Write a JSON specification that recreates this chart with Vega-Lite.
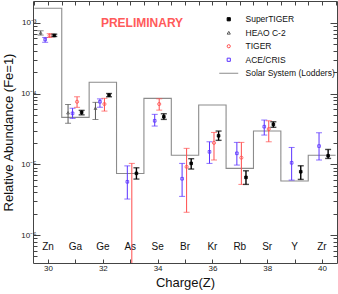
{
"$schema": "https://vega.github.io/schema/vega-lite/v6.json",
"width": 304, "height": 262,
"autosize": {"type": "none"},
"padding": {"left": 33, "top": 1, "right": 1, "bottom": 31},
"background": "white",
"config": {
  "view": {"stroke": "#444", "strokeWidth": 1},
  "font": "Liberation Sans",
  "axis": {"grid": false, "domain": false, "labelFont": "Liberation Sans", "titleFont": "Liberation Sans", "tickColor": "#444", "labelColor": "#222", "titleColor": "#111", "titleFontWeight": "normal"},
  "legend": {"orient": "none", "legendX": 191.5, "legendY": 14, "title": null, "labelFont": "Liberation Sans", "labelFontSize": 8.5, "labelColor": "#111111", "rowPadding": 4.5, "labelOffset": 12.5, "symbolStrokeWidth": 1, "symbolSize": 10}
},
"datasets": {
  "solar": [
    {"z": 29.5, "ab": 1.6e-3}, {"z": 30.5, "ab": 4.6e-5}, {"z": 31.5, "ab": 1.44e-4}, {"z": 32.5, "ab": 7.4e-6},
    {"z": 33.5, "ab": 8.55e-5}, {"z": 34.5, "ab": 1.34e-5}, {"z": 35.5, "ab": 6.87e-5}, {"z": 36.5, "ab": 8.77e-6},
    {"z": 37.5, "ab": 2.95e-5}, {"z": 38.5, "ab": 5.8e-6}, {"z": 39.5, "ab": 1.34e-5}, {"z": 40.5, "ab": 1.34e-5}
  ],
  "els": [
    {"z": 30, "el": "Zn"}, {"z": 31, "el": "Ga"}, {"z": 32, "el": "Ge"}, {"z": 33, "el": "As"}, {"z": 34, "el": "Se"},
    {"z": 35, "el": "Br"}, {"z": 36, "el": "Kr"}, {"z": 37, "el": "Rb"}, {"z": 38, "el": "Sr"}, {"z": 39, "el": "Y"}, {"z": 40, "el": "Zr"}
  ],
  "meas": [
    {"z": 30, "exp": "HEAO C-2", "v": 7.2e-4, "lo": 6.7e-4, "hi": 7.7e-4},
    {"z": 31, "exp": "HEAO C-2", "v": 5.35e-5, "lo": 3.8e-5, "hi": 7.0e-5},
    {"z": 32, "exp": "HEAO C-2", "v": 6.2e-5, "lo": 4.3e-5, "hi": 7.5e-5},
    {"z": 30, "exp": "ACE/CRIS", "v": 5.8e-4, "lo": 5.3e-4, "hi": 6.2e-4},
    {"z": 31, "exp": "ACE/CRIS", "v": 5.25e-5, "lo": 4.45e-5, "hi": 6.2e-5},
    {"z": 32, "exp": "ACE/CRIS", "v": 7.65e-5, "lo": 6.4e-5, "hi": 8.4e-5},
    {"z": 33, "exp": "ACE/CRIS", "v": 5.66e-6, "lo": 3.23e-6, "hi": 9.5e-6},
    {"z": 34, "exp": "ACE/CRIS", "v": 4.12e-5, "lo": 3.47e-5, "hi": 5.08e-5},
    {"z": 35, "exp": "ACE/CRIS", "v": 6.25e-6, "lo": 3.52e-6, "hi": 1.03e-5},
    {"z": 36, "exp": "ACE/CRIS", "v": 1.5e-5, "lo": 1.03e-5, "hi": 2.08e-5},
    {"z": 37, "exp": "ACE/CRIS", "v": 1.43e-5, "lo": 9.75e-6, "hi": 2.04e-5},
    {"z": 38, "exp": "ACE/CRIS", "v": 3.4e-5, "lo": 2.59e-5, "hi": 4.22e-5},
    {"z": 39, "exp": "ACE/CRIS", "v": 1.05e-5, "lo": 5.98e-6, "hi": 1.73e-5},
    {"z": 40, "exp": "ACE/CRIS", "v": 1.81e-5, "lo": 1.15e-5, "hi": 2.79e-5},
    {"z": 30, "exp": "TIGER", "v": 6.6e-4, "lo": 6.2e-4, "hi": 7.0e-4},
    {"z": 31, "exp": "TIGER", "v": 7.65e-5, "lo": 6.38e-5, "hi": 9.0e-5},
    {"z": 32, "exp": "TIGER", "v": 7.1e-5, "lo": 5.65e-5, "hi": 8.56e-5},
    {"z": 33, "exp": "TIGER", "v": 2e-7, "lo": 1e-8, "hi": 1.03e-5},
    {"z": 34, "exp": "TIGER", "v": 7.1e-5, "lo": 5.83e-5, "hi": 8.43e-5},
    {"z": 35, "exp": "TIGER", "v": 9.2e-6, "lo": 2.1e-6, "hi": 1.68e-5},
    {"z": 36, "exp": "TIGER", "v": 2.01e-5, "lo": 1.15e-5, "hi": 2.82e-5},
    {"z": 37, "exp": "TIGER", "v": 1.24e-5, "lo": 5.2e-6, "hi": 2.04e-5},
    {"z": 38, "exp": "TIGER", "v": 3.15e-5, "lo": 2.08e-5, "hi": 4.12e-5},
    {"z": 30, "exp": "SuperTIGER", "v": 6.6e-4, "lo": 6.4e-4, "hi": 6.9e-4},
    {"z": 31, "exp": "SuperTIGER", "v": 5.42e-5, "lo": 5.0e-5, "hi": 5.78e-5},
    {"z": 32, "exp": "SuperTIGER", "v": 9.5e-5, "lo": 9.0e-5, "hi": 1.0e-4},
    {"z": 33, "exp": "SuperTIGER", "v": 7.45e-6, "lo": 6.18e-6, "hi": 8.93e-6},
    {"z": 34, "exp": "SuperTIGER", "v": 4.7e-5, "lo": 4.31e-5, "hi": 5.18e-5},
    {"z": 35, "exp": "SuperTIGER", "v": 1.03e-5, "lo": 8.57e-6, "hi": 1.2e-5},
    {"z": 36, "exp": "SuperTIGER", "v": 2.53e-5, "lo": 2.18e-5, "hi": 2.95e-5},
    {"z": 37, "exp": "SuperTIGER", "v": 6.53e-6, "lo": 5.2e-6, "hi": 8.1e-6},
    {"z": 38, "exp": "SuperTIGER", "v": 3.66e-5, "lo": 3.33e-5, "hi": 3.99e-5},
    {"z": 39, "exp": "SuperTIGER", "v": 7.85e-6, "lo": 6.12e-6, "hi": 9.53e-6},
    {"z": 40, "exp": "SuperTIGER", "v": 1.32e-5, "lo": 1.21e-5, "hi": 1.62e-5}
  ]
},
"resolve": {"axis": {"x": "independent", "y": "independent"}},
"layer": [
  {
    "data": {"name": "solar"},
    "mark": {"type": "line", "interpolate": "step-after", "color": "#8c8c8c", "strokeWidth": 1.1, "clip": true},
    "encoding": {
      "x": {"field": "z", "type": "quantitative", "scale": {"domain": [29.45, 40.55], "nice": false, "zero": false},
        "axis": {"orient": "bottom", "values": [30, 31, 32, 33, 34, 35, 36, 37, 38, 39, 40], "labelExpr": "datum.value % 2 == 0 ? datum.label : ''", "tickSize": -4, "labelFontSize": 8, "labelPadding": 5, "title": "Charge(Z)", "titleFontSize": 13, "titlePadding": 4}},
      "y": {"field": "ab", "type": "quantitative", "scale": {"type": "log", "domain": [4.03e-7, 2.03e-3], "nice": false},
        "axis": {"orient": "left", "values": [5e-7, 6e-7, 7e-7, 8e-7, 9e-7, 1e-6, 2e-6, 3e-6, 4e-6, 5e-6, 6e-6, 7e-6, 8e-6, 9e-6, 1e-5, 2e-5, 3e-5, 4e-5, 5e-5, 6e-5, 7e-5, 8e-5, 9e-5, 1e-4, 2e-4, 3e-4, 4e-4, 5e-4, 6e-4, 7e-4, 8e-4, 9e-4, 1e-3],
          "labelExpr": "datum.value == 1e-3 ? '10⁻³' : datum.value == 1e-4 ? '10⁻⁴' : datum.value == 1e-5 ? '10⁻⁵' : datum.value == 1e-6 ? '10⁻⁶' : ''",
          "tickSize": {"condition": {"test": "abs(log(datum.value)/LN10 - round(log(datum.value)/LN10)) < 0.01", "value": -7}, "value": -4},
          "labelFontSize": 8, "labelPadding": 4, "title": "Relative Abundance (Fe=1)", "titleFontSize": 13, "titlePadding": 5}}
    }
  },
  {
    "data": {"name": "els"},
    "mark": {"type": "text", "fontSize": 10, "color": "#111111", "font": "Liberation Sans"},
    "encoding": {
      "x": {"field": "z", "type": "quantitative", "scale": {"domain": [29.45, 40.55], "nice": false, "zero": false},
        "axis": {"orient": "top", "values": [29.5, 30, 30.5, 31, 31.5, 32, 32.5, 33, 33.5, 34, 34.5, 35, 35.5, 36, 36.5, 37, 37.5, 38, 38.5, 39, 39.5, 40, 40.5], "labels": false, "tickSize": -4, "title": null}},
      "y": {"datum": 6.8e-7, "type": "quantitative", "scale": {"type": "log", "domain": [4.03e-7, 2.03e-3], "nice": false},
        "axis": {"orient": "right", "values": [5e-7, 6e-7, 7e-7, 8e-7, 9e-7, 1e-6, 2e-6, 3e-6, 4e-6, 5e-6, 6e-6, 7e-6, 8e-6, 9e-6, 1e-5, 2e-5, 3e-5, 4e-5, 5e-5, 6e-5, 7e-5, 8e-5, 9e-5, 1e-4, 2e-4, 3e-4, 4e-4, 5e-4, 6e-4, 7e-4, 8e-4, 9e-4, 1e-3],
          "labels": false, "title": null,
          "tickSize": {"condition": {"test": "abs(log(datum.value)/LN10 - round(log(datum.value)/LN10)) < 0.01", "value": -7}, "value": -4}}},
      "text": {"field": "el"}
    }
  },
  {
    "data": {"values": [{"label": "PRELIMINARY"}]},
    "mark": {"type": "text", "fontSize": 12, "fontWeight": "bold", "color": "#ff5a5a", "font": "Liberation Sans"},
    "encoding": {
      "x": {"datum": 33.43, "type": "quantitative", "scale": {"domain": [29.45, 40.55], "nice": false, "zero": false}, "axis": null},
      "y": {"datum": 1.0e-3, "type": "quantitative", "scale": {"type": "log", "domain": [4.03e-7, 2.03e-3], "nice": false}, "axis": null},
      "text": {"field": "label"}
    }
  },
  {
    "data": {"name": "meas"},
    "transform": [{"filter": {"field": "exp", "equal": "HEAO C-2"}}],
    "encoding": {
      "x": {"field": "z", "type": "quantitative", "scale": {"domain": [29.45, 40.55], "nice": false, "zero": false}, "axis": null}
    },
    "layer": [
      {"mark": {"type": "rule", "strokeWidth": 1, "color": "#555555", "xOffset": -7.4, "clip": true},
       "encoding": {"y": {"field": "lo", "type": "quantitative", "scale": {"type": "log", "domain": [4.03e-7, 2.03e-3], "nice": false}, "axis": null}, "y2": {"field": "hi"}}},
      {"mark": {"type": "tick", "orient": "horizontal", "size": 6, "thickness": 1, "color": "#555555", "xOffset": -7.4, "clip": true},
       "encoding": {"y": {"field": "lo", "type": "quantitative", "scale": {"type": "log", "domain": [4.03e-7, 2.03e-3], "nice": false}, "axis": null}}},
      {"mark": {"type": "tick", "orient": "horizontal", "size": 6, "thickness": 1, "color": "#555555", "xOffset": -7.4, "clip": true},
       "encoding": {"y": {"field": "hi", "type": "quantitative", "scale": {"type": "log", "domain": [4.03e-7, 2.03e-3], "nice": false}, "axis": null}}},
      {"mark": {"type": "point", "filled": false, "strokeWidth": 0.8, "opacity": 1, "size": 8, "xOffset": -7.4, "clip": true},
       "encoding": {
         "y": {"field": "v", "type": "quantitative", "scale": {"type": "log", "domain": [4.03e-7, 2.03e-3], "nice": false}, "axis": null},
         "color": {"field": "exp", "type": "nominal", "scale": {"domain": ["SuperTIGER", "HEAO C-2", "TIGER", "ACE/CRIS", "Solar System (Lodders)"], "range": ["#000000", "#555555", "#ff4d4d", "#5a32ff", "#8c8c8c"]}},
         "shape": {"field": "exp", "type": "nominal", "scale": {"domain": ["SuperTIGER", "HEAO C-2", "TIGER", "ACE/CRIS", "Solar System (Lodders)"], "range": ["square", "triangle-up", "circle", "square", "M-6,0L6,0"]}},
         "fill": {"field": "exp", "type": "nominal", "scale": {"domain": ["SuperTIGER", "HEAO C-2", "TIGER", "ACE/CRIS", "Solar System (Lodders)"], "range": ["#000000", "transparent", "transparent", "transparent", "transparent"]}}
       }}
    ]
  },
  {
    "data": {"name": "meas"},
    "transform": [{"filter": {"field": "exp", "equal": "ACE/CRIS"}}],
    "encoding": {
      "x": {"field": "z", "type": "quantitative", "scale": {"domain": [29.45, 40.55], "nice": false, "zero": false}, "axis": null}
    },
    "layer": [
      {"mark": {"type": "rule", "strokeWidth": 1, "color": "#5a32ff", "xOffset": -2.9, "clip": true},
       "encoding": {"y": {"field": "lo", "type": "quantitative", "scale": {"type": "log", "domain": [4.03e-7, 2.03e-3], "nice": false}, "axis": null}, "y2": {"field": "hi"}}},
      {"mark": {"type": "tick", "orient": "horizontal", "size": 6, "thickness": 1, "color": "#5a32ff", "xOffset": -2.9, "clip": true},
       "encoding": {"y": {"field": "lo", "type": "quantitative", "scale": {"type": "log", "domain": [4.03e-7, 2.03e-3], "nice": false}, "axis": null}}},
      {"mark": {"type": "tick", "orient": "horizontal", "size": 6, "thickness": 1, "color": "#5a32ff", "xOffset": -2.9, "clip": true},
       "encoding": {"y": {"field": "hi", "type": "quantitative", "scale": {"type": "log", "domain": [4.03e-7, 2.03e-3], "nice": false}, "axis": null}}},
      {"mark": {"type": "point", "filled": false, "strokeWidth": 0.8, "opacity": 1, "size": 7, "xOffset": -2.9, "clip": true},
       "encoding": {
         "y": {"field": "v", "type": "quantitative", "scale": {"type": "log", "domain": [4.03e-7, 2.03e-3], "nice": false}, "axis": null},
         "color": {"field": "exp", "type": "nominal", "scale": {"domain": ["SuperTIGER", "HEAO C-2", "TIGER", "ACE/CRIS", "Solar System (Lodders)"], "range": ["#000000", "#555555", "#ff4d4d", "#5a32ff", "#8c8c8c"]}},
         "shape": {"field": "exp", "type": "nominal", "scale": {"domain": ["SuperTIGER", "HEAO C-2", "TIGER", "ACE/CRIS", "Solar System (Lodders)"], "range": ["square", "triangle-up", "circle", "square", "M-6,0L6,0"]}},
         "fill": {"field": "exp", "type": "nominal", "scale": {"domain": ["SuperTIGER", "HEAO C-2", "TIGER", "ACE/CRIS", "Solar System (Lodders)"], "range": ["#000000", "transparent", "transparent", "transparent", "transparent"]}}
       }}
    ]
  },
  {
    "data": {"name": "meas"},
    "transform": [{"filter": {"field": "exp", "equal": "TIGER"}}],
    "encoding": {
      "x": {"field": "z", "type": "quantitative", "scale": {"domain": [29.45, 40.55], "nice": false, "zero": false}, "axis": null}
    },
    "layer": [
      {"mark": {"type": "rule", "strokeWidth": 1, "color": "#ff4d4d", "xOffset": 1.6, "clip": true},
       "encoding": {"y": {"field": "lo", "type": "quantitative", "scale": {"type": "log", "domain": [4.03e-7, 2.03e-3], "nice": false}, "axis": null}, "y2": {"field": "hi"}}},
      {"mark": {"type": "tick", "orient": "horizontal", "size": 6, "thickness": 1, "color": "#ff4d4d", "xOffset": 1.6, "clip": true},
       "encoding": {"y": {"field": "lo", "type": "quantitative", "scale": {"type": "log", "domain": [4.03e-7, 2.03e-3], "nice": false}, "axis": null}}},
      {"mark": {"type": "tick", "orient": "horizontal", "size": 6, "thickness": 1, "color": "#ff4d4d", "xOffset": 1.6, "clip": true},
       "encoding": {"y": {"field": "hi", "type": "quantitative", "scale": {"type": "log", "domain": [4.03e-7, 2.03e-3], "nice": false}, "axis": null}}},
      {"mark": {"type": "point", "filled": false, "strokeWidth": 0.8, "opacity": 1, "size": 10, "xOffset": 1.6, "clip": true},
       "encoding": {
         "y": {"field": "v", "type": "quantitative", "scale": {"type": "log", "domain": [4.03e-7, 2.03e-3], "nice": false}, "axis": null},
         "color": {"field": "exp", "type": "nominal", "scale": {"domain": ["SuperTIGER", "HEAO C-2", "TIGER", "ACE/CRIS", "Solar System (Lodders)"], "range": ["#000000", "#555555", "#ff4d4d", "#5a32ff", "#8c8c8c"]}},
         "shape": {"field": "exp", "type": "nominal", "scale": {"domain": ["SuperTIGER", "HEAO C-2", "TIGER", "ACE/CRIS", "Solar System (Lodders)"], "range": ["square", "triangle-up", "circle", "square", "M-6,0L6,0"]}},
         "fill": {"field": "exp", "type": "nominal", "scale": {"domain": ["SuperTIGER", "HEAO C-2", "TIGER", "ACE/CRIS", "Solar System (Lodders)"], "range": ["#000000", "transparent", "transparent", "transparent", "transparent"]}}
       }}
    ]
  },
  {
    "data": {"name": "meas"},
    "transform": [{"filter": {"field": "exp", "equal": "SuperTIGER"}}],
    "encoding": {
      "x": {"field": "z", "type": "quantitative", "scale": {"domain": [29.45, 40.55], "nice": false, "zero": false}, "axis": null}
    },
    "layer": [
      {"mark": {"type": "rule", "strokeWidth": 1.4, "color": "#000000", "xOffset": 6.2, "clip": true},
       "encoding": {"y": {"field": "lo", "type": "quantitative", "scale": {"type": "log", "domain": [4.03e-7, 2.03e-3], "nice": false}, "axis": null}, "y2": {"field": "hi"}}},
      {"mark": {"type": "tick", "orient": "horizontal", "size": 6, "thickness": 1.4, "color": "#000000", "xOffset": 6.2, "clip": true},
       "encoding": {"y": {"field": "lo", "type": "quantitative", "scale": {"type": "log", "domain": [4.03e-7, 2.03e-3], "nice": false}, "axis": null}}},
      {"mark": {"type": "tick", "orient": "horizontal", "size": 6, "thickness": 1.4, "color": "#000000", "xOffset": 6.2, "clip": true},
       "encoding": {"y": {"field": "hi", "type": "quantitative", "scale": {"type": "log", "domain": [4.03e-7, 2.03e-3], "nice": false}, "axis": null}}},
      {"mark": {"type": "point", "filled": false, "strokeWidth": 0.8, "opacity": 1, "size": 7, "xOffset": 6.2, "clip": true},
       "encoding": {
         "y": {"field": "v", "type": "quantitative", "scale": {"type": "log", "domain": [4.03e-7, 2.03e-3], "nice": false}, "axis": null},
         "color": {"field": "exp", "type": "nominal", "scale": {"domain": ["SuperTIGER", "HEAO C-2", "TIGER", "ACE/CRIS", "Solar System (Lodders)"], "range": ["#000000", "#555555", "#ff4d4d", "#5a32ff", "#8c8c8c"]}},
         "shape": {"field": "exp", "type": "nominal", "scale": {"domain": ["SuperTIGER", "HEAO C-2", "TIGER", "ACE/CRIS", "Solar System (Lodders)"], "range": ["square", "triangle-up", "circle", "square", "M-6,0L6,0"]}},
         "fill": {"field": "exp", "type": "nominal", "scale": {"domain": ["SuperTIGER", "HEAO C-2", "TIGER", "ACE/CRIS", "Solar System (Lodders)"], "range": ["#000000", "transparent", "transparent", "transparent", "transparent"]}}
       }}
    ]
  }
]
}
